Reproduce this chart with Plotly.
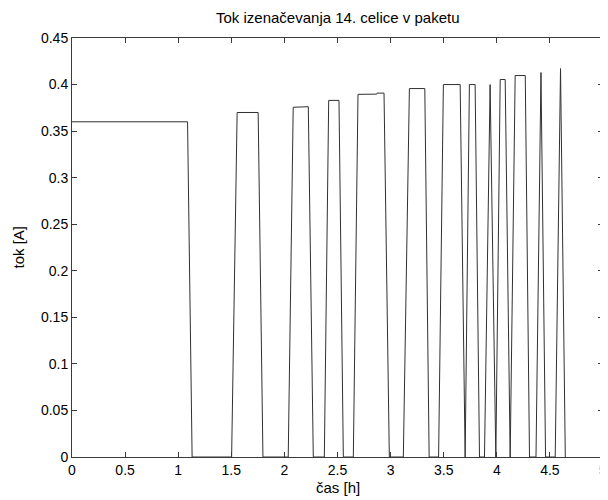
import plotly.graph_objects as go

# time [h] and current [A] of the balancing current (piecewise trace)
cas_h = [0.0, 1.088, 1.131,
         1.503, 1.555, 1.753, 1.798,
         2.036, 2.083, 2.225, 2.272,
         2.376, 2.417, 2.514, 2.555,
         2.649, 2.693, 2.869, 2.872, 2.938, 2.988,
         3.120, 3.177, 3.322, 3.363,
         3.452, 3.497, 3.655, 3.702,
         3.742, 3.796, 3.837,
         3.884, 3.937, 3.991,
         4.032, 4.079, 4.126,
         4.173, 4.268, 4.308,
         4.369, 4.416, 4.459,
         4.550, 4.600, 4.645]
tok_A = [0.360, 0.360, 0.0,
         0.0, 0.370, 0.370, 0.0,
         0.0, 0.3756, 0.3762, 0.0,
         0.0, 0.383, 0.383, 0.0,
         0.0, 0.3895, 0.3897, 0.3908, 0.3908, 0.0,
         0.0, 0.3957, 0.3957, 0.0,
         0.0, 0.400, 0.400, 0.0,
         0.400, 0.400, 0.0,
         0.0, 0.400, 0.0,
         0.4054, 0.4054, 0.0,
         0.4097, 0.4097, 0.0,
         0.0, 0.4129, 0.0,
         0.0, 0.4172, 0.0]

x_ticks = [0, 0.5, 1, 1.5, 2, 2.5, 3, 3.5, 4, 4.5, 5]
x_tick_labels = ["0", "0.5", "1", "1.5", "2", "2.5", "3", "3.5", "4", "4.5", "5"]
y_ticks = [0, 0.05, 0.1, 0.15, 0.2, 0.25, 0.3, 0.35, 0.4, 0.45]
y_tick_labels = ["0", "0.05", "0.1", "0.15", "0.2", "0.25", "0.3", "0.35", "0.4", "0.45"]

FONT = "Liberation Sans, Arial, sans-serif"
AXC = "#3a3a3a"
# page body has an 8px margin, so the figure is laid out 8px smaller/shifted
W, H = 600, 492
L, R, T, B = 64, 5, 30, 43
PW, PH = W - L - R, H - T - B

fig = go.Figure()
fig.add_trace(go.Scatter(x=cas_h, y=tok_A, mode="lines",
                         line=dict(color="#303030", width=1),
                         hoverinfo="skip", showlegend=False))

fig.update_layout(
    width=W, height=H,
    margin=dict(l=L, r=R, t=T, b=B, autoexpand=False),
    paper_bgcolor="white", plot_bgcolor="white",
    font=dict(family=FONT, size=14, color="black"),
    showlegend=False,
    annotations=[
        dict(text="Tok izenačevanja 14. celice v paketu", xref="paper", yref="paper",
             x=0.5, y=1 + 20 / PH, xanchor="center", yanchor="middle",
             showarrow=False, font=dict(family=FONT, size=15, color="black")),
        dict(text="čas [h]", xref="paper", yref="paper",
             x=0.5, y=-30 / PH, xanchor="center", yanchor="middle",
             showarrow=False, font=dict(family=FONT, size=15, color="black")),
        dict(text="tok [A]", xref="paper", yref="paper", textangle=-90,
             x=-(L - 10) / PW, y=0.5, xanchor="center", yanchor="middle",
             showarrow=False, font=dict(family=FONT, size=15, color="black")),
    ],
)
fig.update_xaxes(range=[0, 5], tickvals=x_ticks, ticktext=x_tick_labels,
                 ticks="inside", ticklen=5, tickcolor=AXC, tickwidth=1,
                 showline=True, linecolor=AXC, linewidth=1, mirror="ticks",
                 showgrid=False, zeroline=False, automargin=False)
fig.update_yaxes(range=[0, 0.45], tickvals=y_ticks, ticktext=y_tick_labels,
                 ticks="inside", ticklen=5, tickcolor=AXC, tickwidth=1,
                 showline=True, linecolor=AXC, linewidth=1, mirror="ticks",
                 showgrid=False, zeroline=False, automargin=False)

fig.write_html("out.html")
